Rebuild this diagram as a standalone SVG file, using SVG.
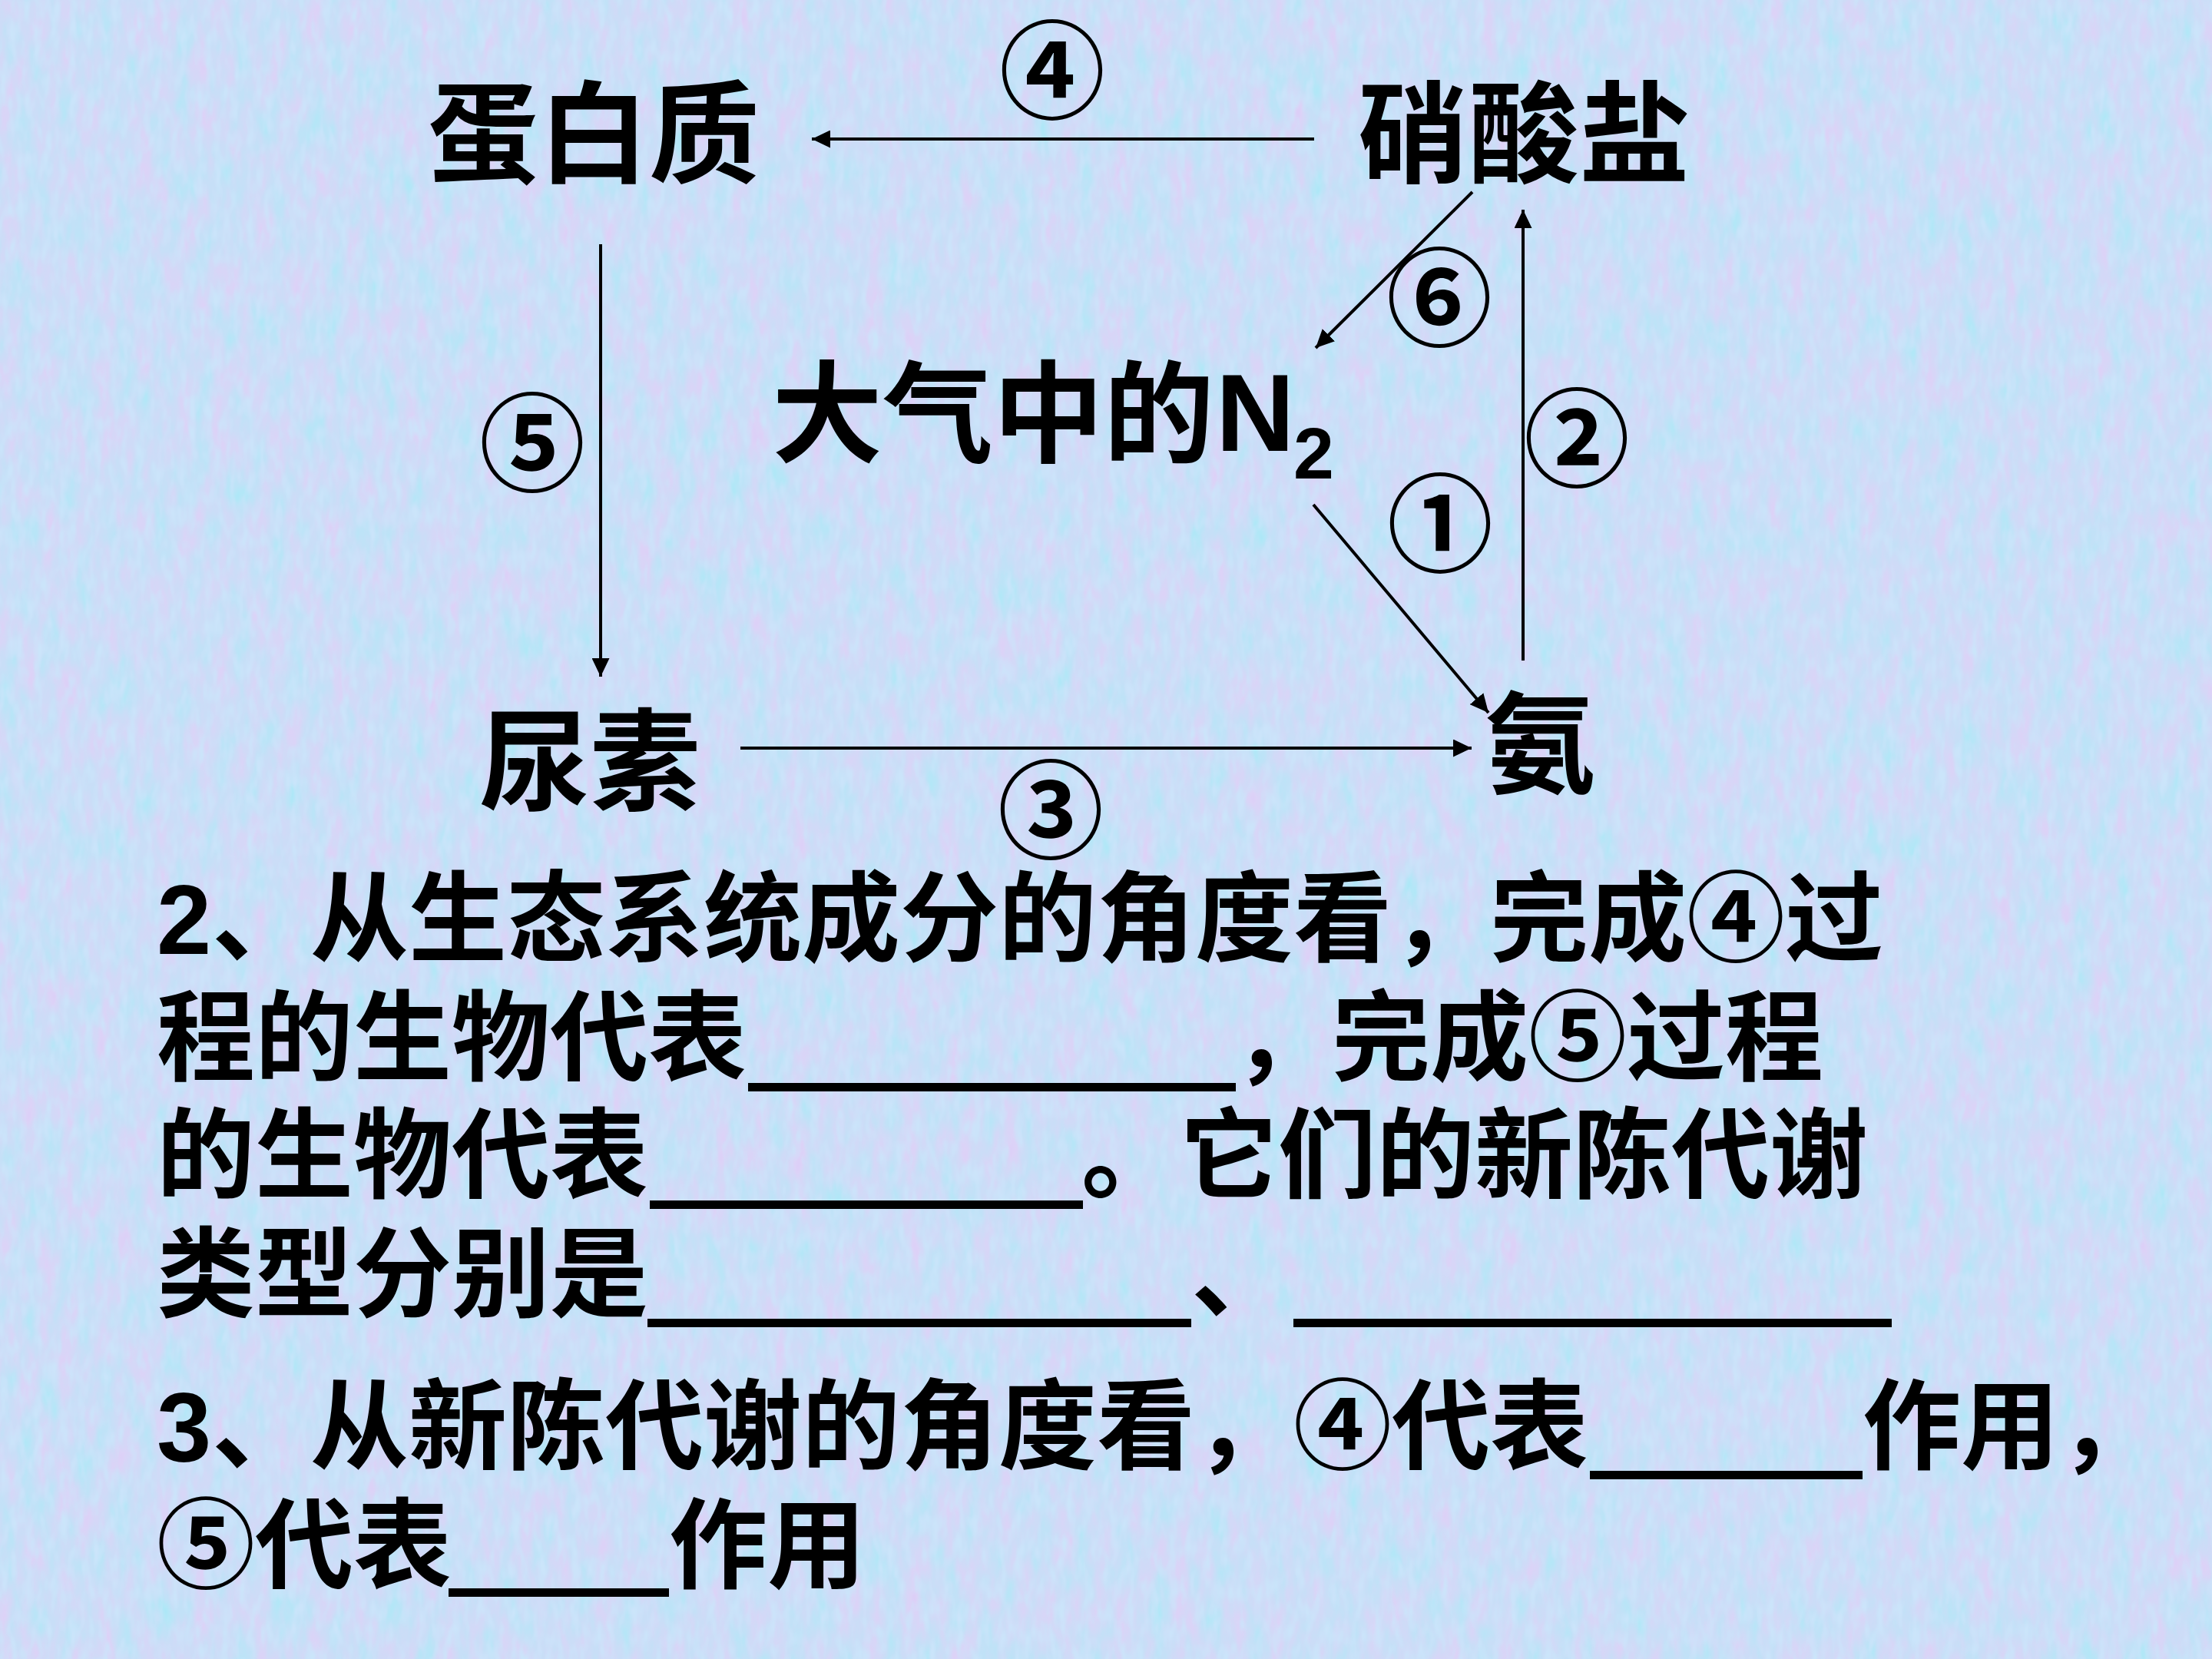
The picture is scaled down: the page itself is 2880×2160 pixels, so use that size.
<svg xmlns="http://www.w3.org/2000/svg" width="2880" height="2160" viewBox="0 0 2880 2160">
<defs>
<style>
.lbl{font-family:"Noto Sans CJK SC","Liberation Sans",sans-serif;font-weight:600;font-size:144px;fill:#000}
.num{font-family:"Noto Sans CJK SC",sans-serif;font-weight:700;font-size:138px;fill:#000;text-anchor:middle}
.txt{font-family:"Noto Sans CJK SC","Liberation Sans",sans-serif;font-weight:600;font-size:128px;fill:#000}
.lat{font-family:"Liberation Sans",sans-serif;font-weight:700;fill:#000}
.conn line{stroke:#000;stroke-width:4;marker-end:url(#ah)}
.blank{fill:#000}
</style>
<marker id="ah" markerUnits="userSpaceOnUse" markerWidth="24" markerHeight="23" refX="24" refY="11.5" orient="auto" viewBox="0 0 24 23">
<path d="M0,0 L24,11.5 L0,23 z" fill="#000"/>
</marker>
<filter id="tex" x="0" y="0" width="100%" height="100%">
<feTurbulence type="fractalNoise" baseFrequency="0.04 0.015" numOctaves="3" seed="7" result="n"/>
<feColorMatrix in="n" type="matrix" values="0.9 0 0 0 0.28  -0.5 0 0 0 1.08  0 0 0 0 0.97  0 0 0 0 0.5"/>
</filter>
<filter id="tex2" x="0" y="0" width="100%" height="100%">
<feTurbulence type="fractalNoise" baseFrequency="0.09 0.035" numOctaves="2" seed="3" result="n"/>
<feColorMatrix in="n" type="matrix" values="0 0 0 0 0.60  0 0 0 0 0.78  0 0 0 0 0.96  0 0 2.5 0 -1.1"/>
</filter>
</defs>
<rect width="2880" height="2160" fill="#b9cef2"/>
<rect width="2880" height="2160" filter="url(#tex)"/>
<rect width="2880" height="2160" filter="url(#tex2)"/>

<g id="node-protein"><text class="lbl" x="557" y="227">蛋白质</text></g>
<g id="node-nitrate"><text class="lbl" x="1768" y="227">硝酸盐</text></g>
<g id="node-n2"><text class="lbl" x="1005" y="591">大气中的</text><text class="lat" x="1583" y="587" font-size="142">N</text><text class="lat" x="1684" y="623" font-size="95">2</text></g>
<g id="node-urea"><text class="lbl" x="624" y="1044">尿素</text></g>
<g id="node-ammonia"><text class="lbl" x="1933" y="1022">氨</text></g>

<g id="connectors" class="conn">
<line x1="1711" y1="181" x2="1057" y2="181"/>
<line x1="1917" y1="250" x2="1713" y2="453"/>
<line x1="1983" y1="860" x2="1983" y2="273"/>
<line x1="1710" y1="657" x2="1938" y2="928"/>
<line x1="964" y1="974" x2="1916" y2="974"/>
<line x1="782" y1="318" x2="782" y2="881"/>
</g>

<g id="labels">
<text class="num" x="1370" y="143">④</text>
<text class="num" x="1874" y="439">⑥</text>
<text class="num" x="2053" y="622">②</text>
<text class="num" x="1875" y="733">①</text>
<text class="num" x="693" y="628">⑤</text>
<text class="num" x="1368" y="1106">③</text>
</g>

<g id="questions">
<text class="txt" y="1242"><tspan class="lat" x="204">2</tspan><tspan x="276">、从生态系统成分的角度看，完成④过</tspan></text>
<text class="txt" y="1397"><tspan x="204">程的生物代表</tspan><tspan x="1606">，完成⑤过程</tspan></text>
<rect class="blank" x="974" y="1410" width="635" height="11"/>
<text class="txt" y="1550"><tspan x="204">的生物代表</tspan><tspan x="1408">。它们的新陈代谢</tspan></text>
<rect class="blank" x="846" y="1563" width="564" height="11"/>
<text class="txt" y="1705"><tspan x="204">类型分别是</tspan><tspan x="1551">、</tspan></text>
<rect class="blank" x="843" y="1717" width="708" height="11"/>
<rect class="blank" x="1684" y="1717" width="779" height="11"/>
<text class="txt" y="1903"><tspan class="lat" x="204">3</tspan><tspan x="276">、从新陈代谢的角度看，④代表</tspan><tspan x="2425">作用，</tspan></text>
<rect class="blank" x="2070" y="1915" width="355" height="11"/>
<text class="txt" y="2058"><tspan x="204">⑤代表</tspan><tspan x="871">作用</tspan></text>
<rect class="blank" x="584" y="2068" width="287" height="11"/>
</g>
</svg>
